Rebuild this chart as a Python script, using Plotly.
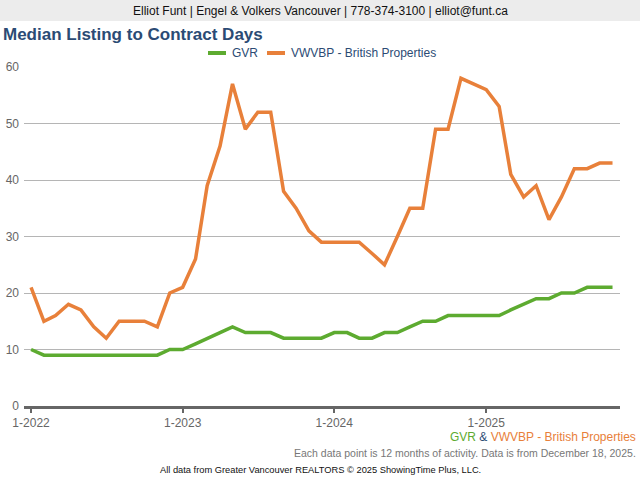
import plotly.graph_objects as go
import pandas as pd

# Data: monthly, Jan 2022 - Nov 2025
months = pd.date_range("2022-01-01", "2025-11-01", freq="MS")
gvr = [10, 9, 9, 9, 9, 9, 9, 9, 9, 9, 9, 10,
       10, 11, 12, 13, 14, 13, 13, 13, 12, 12, 12, 12,
       13, 13, 12, 12, 13, 13, 14, 15, 15, 16, 16, 16,
       16, 16, 17, 18, 19, 19, 20, 20, 21, 21, 21]
vwvbp = [21, 15, 16, 18, 17, 14, 12, 15, 15, 15, 14, 20,
         21, 26, 39, 46, 57, 49, 52, 52, 38, 35, 31, 29,
         29, 29, 29, 27, 25, 30, 35, 35, 49, 49, 58, 57,
         56, 53, 41, 37, 39, 33, 37, 42, 42, 43, 43]
tick_dates = ["2022-01-01", "2023-01-01", "2024-01-01", "2025-01-01"]
tick_labels = ["1-2022", "1-2023", "1-2024", "1-2025"]

green = "#5dab30"
orange = "#e8803a"
navy = "#2b4b74"
font = "Liberation Sans, Arial, sans-serif"

fig = go.Figure()
fig.add_trace(go.Scatter(x=months, y=gvr, name="GVR", mode="lines",
                         line=dict(color=green, width=3.5)))
fig.add_trace(go.Scatter(x=months, y=vwvbp, name="VWVBP - British Properties",
                         mode="lines", line=dict(color=orange, width=3.5)))

fig.update_layout(
    width=640, height=480,
    margin=dict(l=24, r=20, t=67, b=74),
    paper_bgcolor="white", plot_bgcolor="white",
    font=dict(family=font, size=11, color="#666"),
    showlegend=False,
    xaxis=dict(range=["2021-12-15", "2025-11-19"], tickvals=tick_dates,
               ticktext=tick_labels, showgrid=False, showline=True,
               linecolor="#666", linewidth=3, ticks="outside", ticklen=4,
               tickwidth=2, tickcolor="#666", tickfont=dict(size=12, color="#666"),
               zeroline=False, automargin=False),
    yaxis=dict(range=[0, 60], tickvals=[0, 10, 20, 30, 40, 50, 60],
               showgrid=True, gridcolor="#b5b5b5", gridwidth=1,
               zeroline=False, ticks="", ticklabelstandoff=4, automargin=False,
               tickfont=dict(size=12, color="#666")),
)

def px(x):
    return (x - 24) / 596

def py(y):
    return (406 - y) / 339

shapes = [
    dict(type="rect", xref="paper", yref="paper", x0=px(-5), x1=px(650),
         y0=py(21), y1=py(-5), fillcolor="#ececec", line_width=0, layer="below"),
    # legend swatches
    dict(type="line", xref="paper", yref="paper", x0=px(208), x1=px(226),
         y0=py(53), y1=py(53), line=dict(color=green, width=4)),
    dict(type="line", xref="paper", yref="paper", x0=px(267), x1=px(285),
         y0=py(53), y1=py(53), line=dict(color=orange, width=4)),
]
fig.update_layout(shapes=shapes)

ann = [
    dict(text="Elliot Funt | Engel & Volkers Vancouver | 778-374-3100 | elliot@funt.ca",
         x=px(320), y=py(11), font=dict(size=12, color="#111")),
    dict(text="<b>Median Listing to Contract Days</b>", x=px(1), y=py(34),
         xanchor="left", font=dict(size=17, color=navy)),
    dict(text="GVR", x=px(230), y=py(53), xanchor="left",
         font=dict(size=12, color=navy)),
    dict(text="VWVBP - British Properties", x=px(289), y=py(53), xanchor="left",
         font=dict(size=12, color=navy)),
    dict(text=f"<span style='color:{green}'>GVR</span> "
              f"<span style='color:{navy}'>&</span> "
              f"<span style='color:{orange}'>VWVBP - British Properties</span>",
         x=px(638), y=py(437), xanchor="right", font=dict(size=12)),
    dict(text="Each data point is 12 months of activity. Data is from December 18, 2025.",
         x=px(638), y=py(452.5), xanchor="right", font=dict(size=10.5, color="#777")),
    dict(text="All data from Greater Vancouver REALTORS \u00a9 2025 ShowingTime Plus, LLC.",
         x=px(158), y=py(470), xanchor="left", font=dict(size=9.3, color="#111")),
]
for a in ann:
    a.update(xref="paper", yref="paper", showarrow=False, yanchor="middle")
    a.setdefault("xanchor", "center")
fig.update_layout(annotations=ann)

fig.write_html("out.html", config={"displayModeBar": False},
               post_script="document.body.style.margin='0';")
